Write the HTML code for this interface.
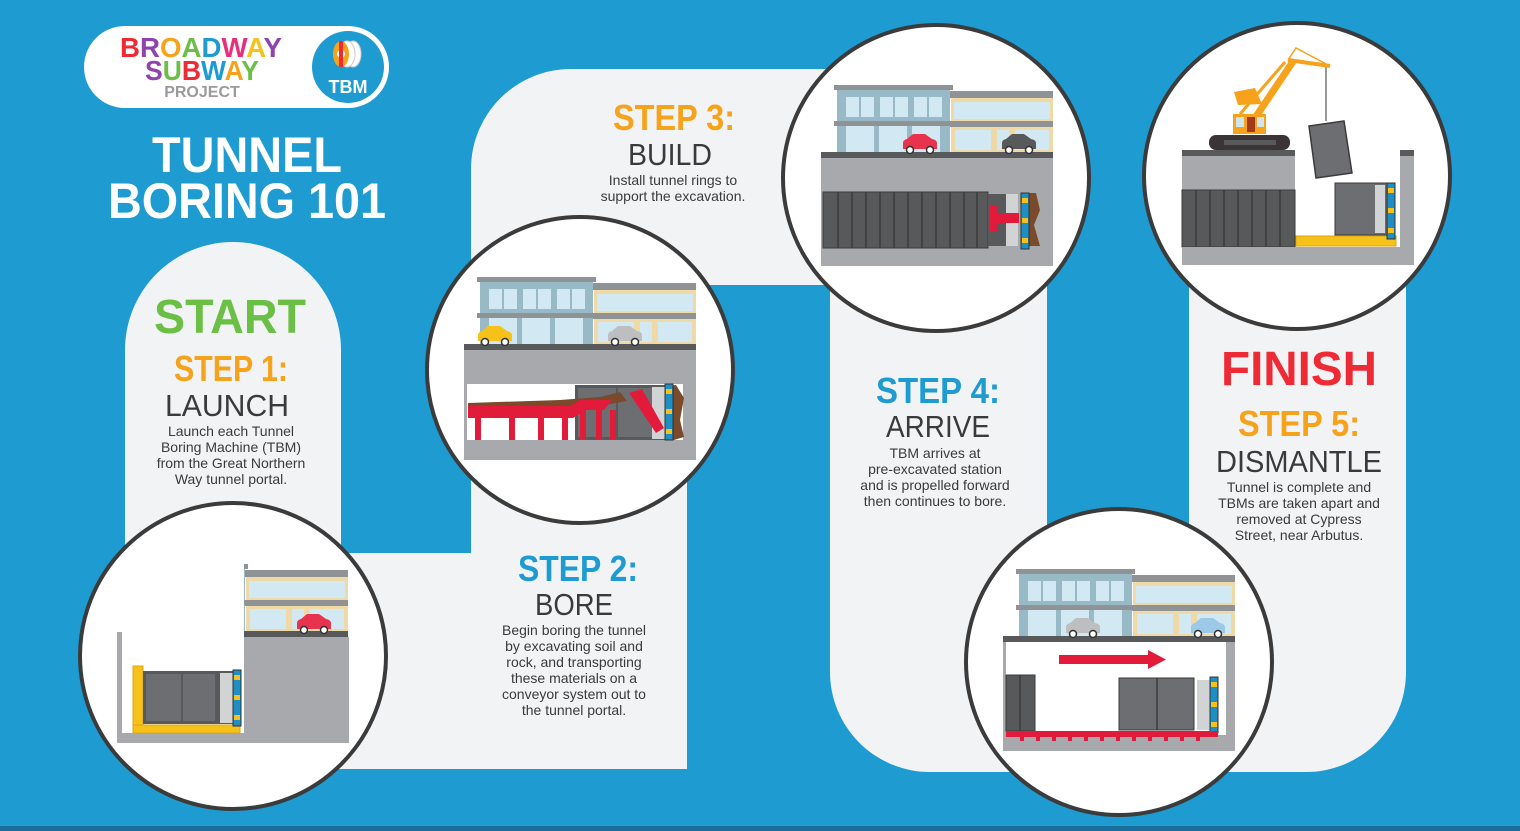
<!DOCTYPE html>
<html><head><meta charset="utf-8">
<style>
html,body{margin:0;padding:0;background:#1e9bd0;}
svg{display:block;}
text{font-family:"Liberation Sans",sans-serif;}
</style></head>
<body>
<svg width="1520" height="831" viewBox="0 0 1520 831" xmlns="http://www.w3.org/2000/svg">
<defs>
 <g id="bld">
  <rect x="13" y="-67" width="119" height="5" fill="#8f9396"/>
  <rect x="16" y="-62" width="113" height="62" fill="#98b9c6"/>
  <rect x="25" y="-55" width="13" height="20" fill="#d2e8f2"/><rect x="40" y="-55" width="13" height="20" fill="#d2e8f2"/>
  <rect x="59" y="-55" width="13" height="20" fill="#d2e8f2"/><rect x="74" y="-55" width="13" height="20" fill="#d2e8f2"/>
  <rect x="93" y="-55" width="13" height="20" fill="#d2e8f2"/><rect x="108" y="-55" width="13" height="20" fill="#d2e8f2"/>
  <rect x="13" y="-31" width="119" height="5" fill="#8f9396"/>
  <rect x="25" y="-26" width="28" height="26" fill="#d2e8f2"/><rect x="58" y="-26" width="28" height="26" fill="#d2e8f2"/><rect x="91" y="-26" width="28" height="26" fill="#d2e8f2"/>
  <rect x="129" y="-61" width="103" height="7" fill="#8f9396"/>
  <rect x="130" y="-54" width="102" height="54" fill="#efd9a6"/>
  <rect x="133" y="-50" width="96" height="17" fill="#d2e8f2"/>
  <rect x="129" y="-31" width="103" height="6" fill="#8f9396"/>
  <rect x="134" y="-22" width="36" height="20" fill="#d2e8f2"/><rect x="176" y="-22" width="12" height="20" fill="#d2e8f2"/><rect x="194" y="-22" width="34" height="20" fill="#d2e8f2"/>
  <rect x="0" y="0" width="232" height="6" fill="#58595b"/>
 </g>
 <g id="car">
  <path d="M0,-2 v-6 q0,-3 4,-4 l6,-5 h12 l7,5 q5,1 5,4 v6 z"/>
  <circle cx="7" cy="-1" r="3.5" fill="#fff" stroke="#333" stroke-width="1.5"/>
  <circle cx="27" cy="-1" r="3.5" fill="#fff" stroke="#333" stroke-width="1.5"/>
 </g>
 <g id="cut">
  <rect x="0" y="0" width="8" height="56" fill="#1e8fc4" stroke="#333" stroke-width="1"/>
  <rect x="1" y="5" width="6" height="5" fill="#f6c21a"/><rect x="1" y="25" width="6" height="5" fill="#f6c21a"/><rect x="1" y="45" width="6" height="5" fill="#f6c21a"/>
 </g>
</defs>

<rect width="1520" height="831" fill="#1e9bd0"/>
<rect x="0" y="826" width="1520" height="5" fill="#1a6f9a"/>

<g fill="#f2f3f5">
 <path d="M125,762 V350 A108,108 0 0 1 341,350 V762 Z"/>
 <path d="M300,553 H687 V669 A100,100 0 0 1 587,769 H300 Z"/>
 <path d="M471,769 V169 A100,100 0 0 1 571,69 H900 V285 H687 V769 Z"/>
 <path d="M830,200 H1047 V600 H1189 V100 H1406 V672 A100,100 0 0 1 1306,772 H930 A100,100 0 0 1 830,672 Z"/>
</g>

<!-- logo -->
<rect x="84" y="26" width="305" height="82" rx="41" fill="#fff"/>
<circle cx="348" cy="67" r="36" fill="#1e9bd0"/>
<g transform="translate(333,40)">
 <ellipse cx="20" cy="14" rx="8" ry="13" fill="#fff" stroke="#ccc"/>
 <ellipse cx="14" cy="14" rx="8" ry="13" fill="#fff" stroke="#ccc"/>
 <ellipse cx="8" cy="14" rx="8" ry="13" fill="#f7a21b"/>
 <circle cx="8" cy="14" r="4" fill="#fff"/>
 <rect x="6" y="1" width="4" height="26" fill="#ee2a35"/>
</g>
<text x="348" y="93" font-size="18" font-weight="bold" fill="#fff" text-anchor="middle">TBM</text>
<text x="120" y="57" font-size="28" font-weight="bold" textLength="162" lengthAdjust="spacingAndGlyphs"><tspan fill="#ee2a35">B</tspan><tspan fill="#8e44ad">R</tspan><tspan fill="#f7a21b">O</tspan><tspan fill="#6bbf45">A</tspan><tspan fill="#1e9bd0">D</tspan><tspan fill="#e6307a">W</tspan><tspan fill="#f6c21a">A</tspan><tspan fill="#8e44ad">Y</tspan></text>
<text x="145" y="80" font-size="28" font-weight="bold" textLength="114" lengthAdjust="spacingAndGlyphs"><tspan fill="#8e44ad">S</tspan><tspan fill="#6bbf45">U</tspan><tspan fill="#ee2a35">B</tspan><tspan fill="#1e9bd0">W</tspan><tspan fill="#f7a21b">A</tspan><tspan fill="#6bbf45">Y</tspan></text>
<text x="202" y="97" font-size="16" font-weight="bold" fill="#9a9a9a" text-anchor="middle">PROJECT</text>

<text x="247" y="172" font-size="50" font-weight="bold" fill="#fff" text-anchor="middle" textLength="190" lengthAdjust="spacingAndGlyphs">TUNNEL</text>
<text x="247" y="218" font-size="50" font-weight="bold" fill="#fff" text-anchor="middle" textLength="278" lengthAdjust="spacingAndGlyphs">BORING 101</text>

<g text-anchor="middle" lengthAdjust="spacingAndGlyphs">
 <text x="230" y="333" font-size="48" font-weight="bold" fill="#6bbf45" textLength="152" lengthAdjust="spacingAndGlyphs">START</text>
 <text x="231" y="381" font-size="36" font-weight="bold" fill="#f7a21b" textLength="114" lengthAdjust="spacingAndGlyphs">STEP 1:</text>
 <text x="227" y="416" font-size="31" fill="#3a3a3a" textLength="124" lengthAdjust="spacingAndGlyphs">LAUNCH</text>
 <g font-size="14" fill="#3a3a3a"><text x="231" y="436">Launch each Tunnel</text><text x="231" y="452">Boring Machine (TBM)</text><text x="231" y="468">from the Great Northern</text><text x="231" y="484">Way tunnel portal.</text></g>

 <text x="674" y="130" font-size="36" font-weight="bold" fill="#f7a21b" textLength="122" lengthAdjust="spacingAndGlyphs">STEP 3:</text>
 <text x="670" y="165" font-size="31" fill="#3a3a3a" textLength="84" lengthAdjust="spacingAndGlyphs">BUILD</text>
 <g font-size="14" fill="#3a3a3a"><text x="673" y="185">Install tunnel rings to</text><text x="673" y="201">support the excavation.</text></g>

 <text x="578" y="581" font-size="36" font-weight="bold" fill="#1e9bd0" textLength="120" lengthAdjust="spacingAndGlyphs">STEP 2:</text>
 <text x="574" y="615" font-size="31" fill="#3a3a3a" textLength="78" lengthAdjust="spacingAndGlyphs">BORE</text>
 <g font-size="14" fill="#3a3a3a"><text x="574" y="635">Begin boring the tunnel</text><text x="574" y="651">by excavating soil and</text><text x="574" y="667">rock, and transporting</text><text x="574" y="683">these materials on a</text><text x="574" y="699">conveyor system out to</text><text x="574" y="715">the tunnel portal.</text></g>

 <text x="938" y="403" font-size="36" font-weight="bold" fill="#1e9bd0" textLength="124" lengthAdjust="spacingAndGlyphs">STEP 4:</text>
 <text x="938" y="437" font-size="31" fill="#3a3a3a" textLength="104" lengthAdjust="spacingAndGlyphs">ARRIVE</text>
 <g font-size="14" fill="#3a3a3a"><text x="935" y="458">TBM arrives at</text><text x="935" y="474">pre-excavated station</text><text x="935" y="490">and is propelled forward</text><text x="935" y="506">then continues to bore.</text></g>

 <text x="1299" y="385" font-size="48" font-weight="bold" fill="#ee2a35" textLength="156" lengthAdjust="spacingAndGlyphs">FINISH</text>
 <text x="1299" y="436" font-size="36" font-weight="bold" fill="#f7a21b" textLength="122" lengthAdjust="spacingAndGlyphs">STEP 5:</text>
 <text x="1299" y="472" font-size="31" fill="#3a3a3a" textLength="166" lengthAdjust="spacingAndGlyphs">DISMANTLE</text>
 <g font-size="14" fill="#3a3a3a"><text x="1299" y="492">Tunnel is complete and</text><text x="1299" y="508">TBMs are taken apart and</text><text x="1299" y="524">removed at Cypress</text><text x="1299" y="540">Street, near Arbutus.</text></g>
</g>

<g fill="#fff" stroke="#3b3b3b" stroke-width="4">
 <circle cx="233" cy="656" r="153"/>
 <circle cx="580" cy="370" r="153"/>
 <circle cx="936" cy="178" r="153"/>
 <circle cx="1297" cy="176" r="153"/>
 <circle cx="1119" cy="662" r="153"/>
</g>

<!-- scene 1 -->
<g>
 <rect x="244" y="637" width="105" height="106" fill="#a7a9ac"/>
 <rect x="117" y="632" width="5" height="111" fill="#a7a9ac"/>
 <rect x="117" y="733" width="232" height="10" fill="#a7a9ac"/>
 <svg x="244" y="560" width="105" height="80" viewBox="128 -71 105 80" overflow="hidden"><use href="#bld" y="0"/></svg>
 <use href="#car" x="297" y="631" fill="#e8334f"/>
 <rect x="133" y="666" width="10" height="67" fill="#f6c21a" stroke="#d9a514"/>
 <rect x="133" y="725" width="107" height="8" fill="#f6c21a" stroke="#d9a514"/>
 <rect x="143" y="671" width="92" height="53" fill="#58595b"/>
 <rect x="146" y="674" width="35" height="47" fill="#6d6e71"/><rect x="183" y="674" width="32" height="47" fill="#6d6e71"/>
 <rect x="220" y="673" width="13" height="50" fill="#d1d3d4"/>
 <use href="#cut" x="233" y="670"/>
</g>

<!-- scene 2 -->
<g>
 <rect x="464" y="350" width="232" height="110" fill="#a7a9ac"/>
 <use href="#bld" x="464" y="344"/>
 <use href="#car" x="478" y="343" fill="#f6c21a"/>
 <use href="#car" x="608" y="343" fill="#bcbec0"/>
 <rect x="467" y="384" width="216" height="56" fill="#fff"/>
 <rect x="575" y="385" width="90" height="55" fill="#58595b"/>
 <rect x="578" y="388" width="38" height="49" fill="#6d6e71"/><rect x="618" y="388" width="36" height="49" fill="#6d6e71"/>
 <rect x="652" y="387" width="13" height="52" fill="#d1d3d4"/>
 <path d="M665,386 L676,385 L684,398 L680,420 L684,437 L674,440 L665,440 Z" fill="#7a4a2a"/>
 <use href="#cut" x="665" y="384"/>
 <path d="M468,403 L560,400 L600,397 L620,392 L627,401 L605,405 L575,411 L468,410 Z" fill="#7a4a2a"/>
 <path d="M468,406 H570 L580,400 H612 L604,410 H586 L573,418 H468 Z" fill="#e31b3a"/>
 <path d="M629,393 L642,389 L664,428 L656,433 Z" fill="#e31b3a"/>
 <g fill="#e31b3a"><rect x="475" y="416" width="6" height="24"/><rect x="509" y="416" width="6" height="24"/><rect x="538" y="416" width="6" height="24"/><rect x="562" y="416" width="6" height="24"/><rect x="580" y="410" width="6" height="30"/><rect x="596" y="410" width="6" height="30"/><rect x="610" y="410" width="6" height="30"/></g>
</g>

<!-- scene 3 -->
<g>
 <rect x="821" y="158" width="232" height="108" fill="#a7a9ac"/>
 <use href="#bld" x="821" y="152"/>
 <use href="#car" x="903" y="151" fill="#e8334f"/>
 <use href="#car" x="1002" y="151" fill="#58595b"/>
 <rect x="823" y="192" width="165" height="56" fill="#58595b" stroke="#3b3b3b"/>
 <g stroke="#3b3b3b" stroke-width="1.5"><line x1="838" y1="192" x2="838" y2="248"/><line x1="852" y1="192" x2="852" y2="248"/><line x1="866" y1="192" x2="866" y2="248"/><line x1="880" y1="192" x2="880" y2="248"/><line x1="894" y1="192" x2="894" y2="248"/><line x1="908" y1="192" x2="908" y2="248"/><line x1="922" y1="192" x2="922" y2="248"/><line x1="936" y1="192" x2="936" y2="248"/><line x1="950" y1="192" x2="950" y2="248"/><line x1="964" y1="192" x2="964" y2="248"/><line x1="977" y1="192" x2="977" y2="248"/></g>
 <rect x="988" y="194" width="30" height="52" fill="#58595b"/>
 <rect x="1006" y="194" width="12" height="52" fill="#d1d3d4"/>
 <rect x="990" y="206" width="7" height="25" fill="#e31b3a"/><rect x="997" y="213" width="22" height="10" fill="#e31b3a"/>
 <path d="M1028,193 L1036,193 L1040,210 L1034,225 L1040,246 L1028,246 Z" fill="#7a4a2a"/>
 <use href="#cut" x="1021" y="193"/>
</g>

<!-- scene 5 -->
<g>
 <rect x="1182" y="150" width="113" height="6" fill="#58595b"/>
 <rect x="1182" y="156" width="113" height="34" fill="#a7a9ac"/>
 <rect x="1182" y="190" width="113" height="57" fill="#58595b" stroke="#3b3b3b"/>
 <g stroke="#3b3b3b" stroke-width="1.5"><line x1="1196" y1="190" x2="1196" y2="247"/><line x1="1210" y1="190" x2="1210" y2="247"/><line x1="1224" y1="190" x2="1224" y2="247"/><line x1="1238" y1="190" x2="1238" y2="247"/><line x1="1252" y1="190" x2="1252" y2="247"/><line x1="1266" y1="190" x2="1266" y2="247"/><line x1="1280" y1="190" x2="1280" y2="247"/></g>
 <rect x="1182" y="247" width="232" height="18" fill="#a7a9ac"/>
 <rect x="1400" y="150" width="14" height="6" fill="#58595b"/>
 <rect x="1400" y="156" width="14" height="92" fill="#a7a9ac"/>
 <rect x="1296" y="236" width="100" height="10" fill="#f6c21a" stroke="#d9a514"/>
 <rect x="1335" y="183" width="52" height="52" fill="#6d6e71" stroke="#3b3b3b"/>
 <rect x="1375" y="185" width="10" height="48" fill="#d1d3d4"/>
 <use href="#cut" x="1387" y="183"/>
 <polygon points="1309,126 1344,121 1352,173 1316,178" fill="#6d6e71" stroke="#3b3b3b" stroke-width="1.5"/>
 <line x1="1326" y1="66" x2="1326" y2="121" stroke="#999" stroke-width="2"/>
 <rect x="1209" y="135" width="81" height="15" rx="7" fill="#3b3436"/>
 <rect x="1224" y="140" width="52" height="5" fill="#58595b"/>
 <line x1="1255" y1="118" x2="1294" y2="60" stroke="#f7a21b" stroke-width="7"/>
 <line x1="1240" y1="114" x2="1285" y2="62" stroke="#f7a21b" stroke-width="3"/>
 <line x1="1288" y1="60" x2="1330" y2="66" stroke="#f7a21b" stroke-width="4"/>
 <polyline points="1288,60 1296,48 1330,66" fill="none" stroke="#f7a21b" stroke-width="1.5"/>
 <polygon points="1234,92 1255,88 1262,104 1238,105" fill="#f7a21b"/>
 <rect x="1233" y="114" width="33" height="20" fill="#f7a21b"/>
 <rect x="1236" y="117" width="8" height="10" fill="#cfe6f0"/><rect x="1257" y="117" width="7" height="10" fill="#cfe6f0"/>
 <rect x="1247" y="117" width="8" height="15" fill="#a33a1c"/>
</g>

<!-- scene 4 -->
<g>
 <use href="#bld" x="1003" y="636"/>
 <use href="#car" x="1066" y="635" fill="#bcbec0"/>
 <use href="#car" x="1191" y="635" fill="#9cc9e8"/>
 <rect x="1003" y="642" width="232" height="109" fill="#a7a9ac"/>
 <rect x="1006" y="642" width="220" height="93" fill="#fff"/>
 <rect x="1059" y="655" width="90" height="9" fill="#e31b3a"/>
 <polygon points="1148,650 1166,659.5 1148,669" fill="#e31b3a"/>
 <rect x="1006" y="675" width="29" height="56" fill="#58595b" stroke="#3b3b3b"/>
 <line x1="1020" y1="675" x2="1020" y2="731" stroke="#3b3b3b" stroke-width="1.5"/>
 <rect x="1119" y="678" width="75" height="52" fill="#6d6e71" stroke="#3b3b3b"/>
 <line x1="1157" y1="678" x2="1157" y2="730" stroke="#3b3b3b" stroke-width="1.5"/>
 <rect x="1197" y="680" width="13" height="50" fill="#d1d3d4"/>
 <use href="#cut" x="1210" y="677"/>
 <rect x="1006" y="731" width="212" height="6" fill="#e31b3a"/>
 <g fill="#e31b3a"><rect x="1020" y="737" width="4" height="4"/><rect x="1036" y="737" width="4" height="4"/><rect x="1052" y="737" width="4" height="4"/><rect x="1068" y="737" width="4" height="4"/><rect x="1084" y="737" width="4" height="4"/><rect x="1100" y="737" width="4" height="4"/><rect x="1116" y="737" width="4" height="4"/><rect x="1132" y="737" width="4" height="4"/><rect x="1148" y="737" width="4" height="4"/><rect x="1164" y="737" width="4" height="4"/><rect x="1180" y="737" width="4" height="4"/><rect x="1196" y="737" width="4" height="4"/></g>
</g>
</svg>
</body></html>
